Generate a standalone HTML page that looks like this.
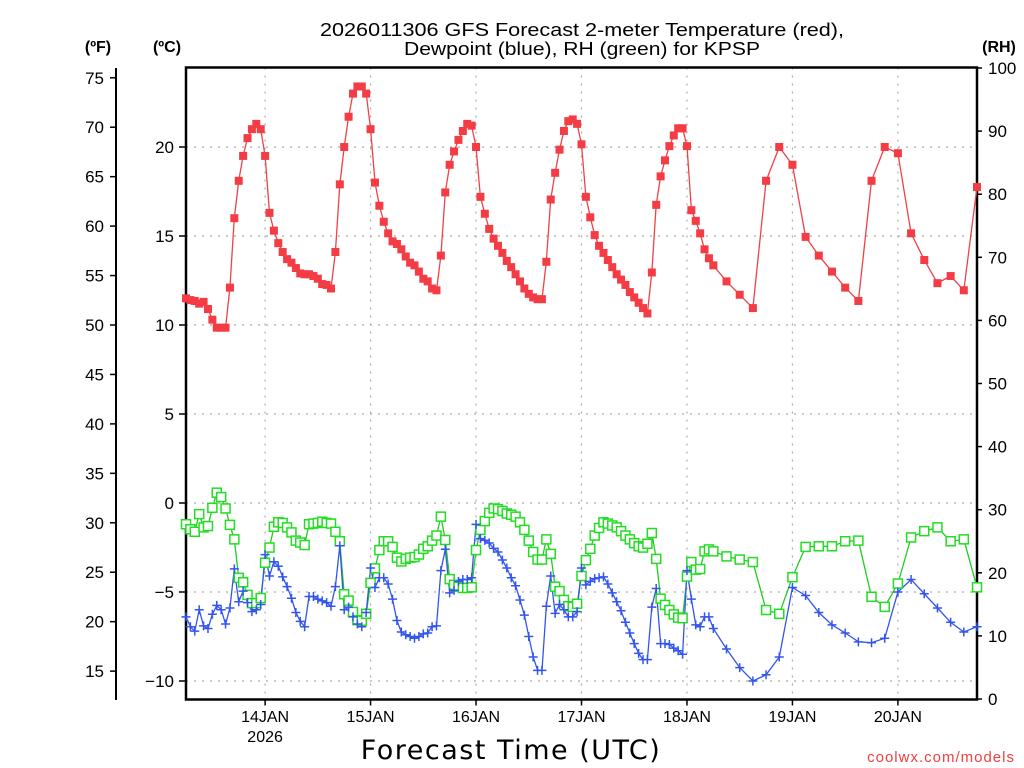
<!DOCTYPE html>
<html><head><meta charset="utf-8"><style>
html,body{margin:0;padding:0;background:#fff;}
svg{display:block;font-family:"Liberation Sans",sans-serif;}
</style></head><body>
<svg id="chart" width="1024" height="768" viewBox="0 0 1024 768" xmlns="http://www.w3.org/2000/svg">
<text x="582" y="36" text-anchor="middle" font-size="18" fill="#000" textLength="524" lengthAdjust="spacingAndGlyphs">2026011306 GFS Forecast 2-meter Temperature (red),</text>
<text x="582" y="55" text-anchor="middle" font-size="18" fill="#000" textLength="356" lengthAdjust="spacingAndGlyphs">Dewpoint (blue), RH (green) for KPSP</text>
<text x="98" y="52" text-anchor="middle" font-size="16" font-weight="bold">(ºF)</text>
<text x="167" y="52" text-anchor="middle" font-size="16" font-weight="bold">(ºC)</text>
<text x="999" y="52" text-anchor="middle" font-size="16" font-weight="bold">(RH)</text>
<text x="511" y="759" text-anchor="middle" font-size="27" letter-spacing="1.5" font-family="DejaVu Sans, sans-serif">Forecast Time (UTC)</text>
<text x="1015" y="762" text-anchor="end" font-size="15" fill="#f04040" letter-spacing="1">coolwx.com/models</text>
<g id="grid"></g><g id="axes"></g><g id="series"></g>
</svg>
<script>
const forecastHours = [];
for (let h = 0; h <= 120; h++) forecastHours.push(h);
for (let h = 123; h <= 180; h += 3) forecastHours.push(h);
const dayLabels = ["14JAN","15JAN","16JAN","17JAN","18JAN","19JAN","20JAN"];
const dayHours = [18,42,66,90,114,138,162];
const tempC = [11.5,11.4,11.35,11.2,11.3,10.9,10.3,9.85,9.85,9.85,
12.1,16.0,18.1,19.5,20.5,21.0,21.3,21.0,19.5,16.3,
15.3,14.6,14.1,13.7,13.5,13.2,12.9,12.85,12.85,12.75,
12.6,12.3,12.25,12.05,14.1,17.9,20.0,21.7,23.0,23.4,
23.4,23.0,21.0,18.0,16.7,15.8,15.15,14.7,14.55,14.25,
13.85,13.5,13.35,13.0,12.6,12.45,12.05,11.95,13.9,17.45,
19.0,19.75,20.4,20.9,21.3,21.2,20.0,17.2,16.25,15.4,
14.85,14.45,14.05,13.6,13.25,12.85,12.45,12.05,11.75,11.55,
11.45,11.45,13.55,17.05,18.55,19.85,20.9,21.45,21.55,21.3,
20.15,17.2,16.05,15.05,14.45,14.05,13.65,13.25,12.85,12.55,
12.25,11.85,11.55,11.25,10.95,10.65,12.95,16.75,18.35,19.25,
20.05,20.65,21.05,21.05,20.05,16.45,15.85,15.15,14.25,13.75,
13.35,12.45,11.7,10.95,18.1,20.0,19.0,14.95,13.9,13.0,12.1,11.35,18.1,20.0,19.65,15.15,13.65,12.35,12.75,11.95,17.75];
const dewC = [-6.4,-6.95,-7.2,-6.0,-6.9,-7.05,-6.25,-5.75,-6.0,-6.8,
-5.9,-3.7,-5.55,-4.95,-5.6,-6.1,-6.0,-5.7,-2.9,-4.1,
-3.3,-3.55,-4.15,-4.7,-5.35,-6.15,-6.65,-6.95,-5.25,-5.25,
-5.4,-5.5,-5.6,-5.8,-4.7,-2.4,-6.0,-5.85,-6.4,-6.8,
-6.95,-6.15,-3.65,-4.75,-4.2,-4.2,-4.55,-5.4,-6.6,-7.25,
-7.4,-7.5,-7.6,-7.5,-7.35,-7.3,-6.95,-6.9,-3.8,-2.6,
-5.05,-4.9,-4.4,-4.3,-4.3,-4.2,-1.2,-2.0,-2.1,-2.25,
-2.55,-2.75,-3.2,-3.65,-4.2,-4.65,-5.45,-6.3,-7.5,-8.65,
-9.4,-9.4,-5.8,-4.1,-6.2,-5.7,-6.0,-6.4,-6.4,-6.1,
-3.65,-4.6,-4.4,-4.25,-4.2,-4.15,-4.55,-5.05,-5.55,-6.05,
-6.7,-7.3,-7.9,-8.45,-8.8,-8.8,-5.85,-4.8,-7.9,-7.9,
-7.95,-8.15,-8.3,-8.5,-3.8,-5.4,-6.85,-6.95,-6.4,-6.4,
-7.05,-8.2,-9.25,-10.0,-9.65,-8.65,-4.75,-5.2,-6.15,-6.85,-7.3,-7.8,-7.85,-7.6,-5.0,-4.3,-5.1,-5.9,-6.7,-7.25,-6.95];
const rhPct = [27.7,26.9,26.5,29.3,27.2,27.4,30.3,32.7,32.0,30.2,
27.6,25.3,19.2,18.5,16.5,15.2,15.2,16.0,21.6,24.0,
27.3,28.0,27.9,27.2,26.4,25.1,24.8,24.4,27.7,27.8,
27.9,28.1,27.9,27.8,26.5,25.0,16.6,15.6,13.8,12.5,
12.4,13.5,18.4,20.7,23.6,25.0,25.0,24.1,22.4,21.8,
22.2,22.4,22.5,22.9,23.8,24.2,25.1,25.9,28.9,25.2,
19.0,18.1,17.8,17.6,17.6,17.7,23.6,26.8,28.2,29.5,
30.2,30.1,29.8,29.4,29.2,28.9,28.0,26.8,25.1,23.3,
22.1,22.1,25.3,23.0,17.8,17.1,15.7,14.7,14.6,15.1,
19.5,22.0,23.8,25.9,27.1,28.0,27.8,27.5,27.2,26.6,
25.9,25.3,24.7,24.2,24.0,24.6,26.3,22.2,15.9,14.9,
14.1,13.4,12.9,12.8,19.4,21.7,20.5,20.6,23.4,23.7,
23.4,22.6,22.1,21.7,14.1,13.5,19.3,24.1,24.2,24.2,25.0,25.1,16.2,14.6,18.3,25.6,26.6,27.2,25.0,25.3,17.7];
const fTicks = [15,20,25,30,35,40,45,50,55,60,65,70,75];
const cTicks = [-10,-5,0,5,10,15,20];
const rhTicks = [0,10,20,30,40,50,60,70,80,90,100];

const NS = "http://www.w3.org/2000/svg";
const L = 186, R = 977, T = 67.5, B = 699.5;
const xH = h => L + h * (R - L) / 180;
const yC = c => 503 - c * 17.8;
const yF = f => yC((f - 32) * 5 / 9);
const yRH = r => 699 - r * 6.31;
function mk(tag, attrs, parent, txt) {
  const e = document.createElementNS(NS, tag);
  for (const k in attrs) e.setAttribute(k, attrs[k]);
  if (txt !== undefined) e.textContent = txt;
  parent.appendChild(e);
  return e;
}
const grid = document.getElementById('grid');
const axes = document.getElementById('axes');
const series = document.getElementById('series');

cTicks.forEach(c => {
  const g = mk('line', {x1:L, x2:R, y1:yC(c), y2:yC(c), stroke:'#aaa', 'stroke-width':1.2, 'stroke-dasharray':'2,6'}, grid);
  
  
  const t = mk('line', {x1:L-7, x2:L, y1:yC(c), y2:yC(c), stroke:'#000', 'stroke-width':1.5}, axes);
  
  
  const lb = mk('text', {x:L-12, y:yC(c)+6, 'text-anchor':'end', 'font-size':17}, axes, c < 0 ? '\u2212' + Math.abs(c) : String(c));
  
  
});
dayHours.forEach((h, i) => {
  const g = mk('line', {x1:xH(h), x2:xH(h), y1:T, y2:B, stroke:'#aaa', 'stroke-width':1.2, 'stroke-dasharray':'2,6'}, grid);
  
  
  const t = mk('line', {x1:xH(h), x2:xH(h), y1:B, y2:B+6, stroke:'#000', 'stroke-width':1.5}, axes);
  
  
  const lb = mk('text', {x:xH(h), y:722, 'text-anchor':'middle', 'font-size':16}, axes, dayLabels[i]);
  
  
});
const yr = mk('text', {x:xH(18), y:742, 'text-anchor':'middle', 'font-size':16}, axes, '2026');



const fAxis = mk('line', {x1:116, x2:116, y1:68, y2:700, stroke:'#000', 'stroke-width':2}, axes);


fTicks.forEach(f => {
  const t = mk('line', {x1:110, x2:116, y1:yF(f), y2:yF(f), stroke:'#000', 'stroke-width':1.5}, axes);
  
  
  const lb = mk('text', {x:104, y:yF(f)+6, 'text-anchor':'end', 'font-size':17}, axes, String(f));
  
  
});
rhTicks.forEach(r => {
  const t = mk('line', {x1:R, x2:R+5, y1:yRH(r), y2:yRH(r), stroke:'#000', 'stroke-width':1.5}, axes);
  
  
  const lb = mk('text', {x:988, y:yRH(r)+6, 'text-anchor':'start', 'font-size':17}, axes, String(r));
  
  
});
const frame = mk('path', {d:`M${L},${B} L${L},${T} L${R},${T} L${R},${B} Z`, fill:'none', stroke:'#000', 'stroke-width':2.5}, axes);



function line(vals, yf, color, name) {
  const d = vals.map((v, i) => (i ? 'L' : 'M') + xH(forecastHours[i]).toFixed(1) + ',' + yf(v).toFixed(1)).join(' ');
  const p = mk('path', {d, fill:'none', stroke:color, 'stroke-width':1.3}, series);
  
  
}
line(rhPct, yRH, '#22cc22', 'rh-line');
line(dewC, yC, '#3355ee', 'dewpoint-line');
line(tempC, yC, '#f04048', 'temperature-line');
rhPct.forEach((v, i) => {
  const x = xH(forecastHours[i]), y = yRH(v);
  const m = mk('rect', {x:x-4.5, y:y-4.5, width:9, height:9, fill:'#fff', stroke:'#22dd22', 'stroke-width':1.5}, series);
  
  
});
dewC.forEach((v, i) => {
  const x = xH(forecastHours[i]), y = yC(v);
  const m = mk('path', {d:`M${x-4.5},${y} H${x+4.5} M${x},${y-4.5} V${y+4.5}`, stroke:'#3355ee', 'stroke-width':1.5}, series);
  
  
});
tempC.forEach((v, i) => {
  const x = xH(forecastHours[i]), y = yC(v);
  const m = mk('rect', {x:x-4, y:y-4, width:8, height:8, fill:'#f43c44'}, series);
  
  
});
</script>
</body></html>
